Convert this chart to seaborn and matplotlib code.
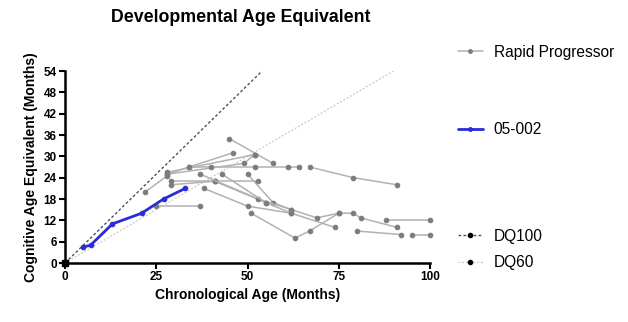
import matplotlib
matplotlib.use("Agg")
import matplotlib.pyplot as plt
import seaborn as sns
import pandas as pd
from matplotlib.lines import Line2D

# ---- data (months) ----
rapid_series = {
    "G1": ([45, 57], [35, 28]),
    "G2": ([28, 34, 46], [25, 27, 31]),
    "G3": ([28, 49, 52], [25, 28, 30.5]),
    "G3b": ([28, 52], [25.5, 30.5]),
    "G4": ([34, 40, 52, 61, 64], [27, 27, 27, 27, 27]),
    "G5": ([67, 79, 91], [27, 24, 22]),
    "G6": ([29, 41, 53], [23, 23, 23]),
    "G7": ([29, 41], [22, 23]),
    "G8": ([37, 53, 62], [25, 18, 15]),
    "G9": ([43, 55, 62, 74], [25, 17, 14, 10]),
    "G10": ([50, 57, 62, 69, 75, 79, 81, 91], [25, 17, 15, 12.7, 14, 14, 12.7, 10]),
    "G11": ([38, 50, 62], [21, 16, 14]),
    "G12": ([41, 55], [23, 17]),
    "G13": ([51, 63, 67, 75], [14, 7, 9, 14]),
    "G14": ([88, 100], [12, 12]),
    "G15": ([80, 92], [9, 8]),
    "G16": ([95, 100], [8, 8]),
    "G17": ([25, 37], [16, 16]),
    "G18": ([22, 28], [20, 24.5]),
}
subj_x = [5, 7, 13, 21, 27, 33]
subj_y = [4.5, 5, 11, 14, 18, 21]
dq100_x = [0, 54]
dq100_y = [0, 54]
dq60_x = [0, 90]
dq60_y = [0, 54]

x_ticks = [0, 25, 50, 75, 100]
y_ticks = [0, 6, 12, 18, 24, 30, 36, 42, 48, 54]

rows = []
for name, (xs, ys) in rapid_series.items():
    for xv, yv in zip(xs, ys):
        rows.append({"subject": name, "x": xv, "y": yv})
df_rapid = pd.DataFrame(rows)
df_subj = pd.DataFrame({"x": subj_x, "y": subj_y})
df_dq100 = pd.DataFrame({"x": dq100_x, "y": dq100_y})
df_dq60 = pd.DataFrame({"x": dq60_x, "y": dq60_y})

sns.set_theme(style="white")
plt.rcParams["font.family"] = ["Liberation Sans", "DejaVu Sans"]
plt.rcParams["text.color"] = "black"
plt.rcParams["axes.labelcolor"] = "black"
plt.rcParams["xtick.color"] = "black"
plt.rcParams["ytick.color"] = "black"

fig = plt.figure(figsize=(6.28, 3.22), dpi=100)
ax = fig.add_axes([65 / 628, 1 - 263 / 322, 365 / 628, (263 - 71) / 322])

gray_line = "#b2b2b2"
gray_mark = "#7c7c7c"
blue = "#2a2ad6"

# DQ lines
sns.lineplot(data=df_dq60, x="x", y="y", ax=ax, color="#c8c8c8", lw=0.9,
             linestyle=(0, (1.5, 1.5)), zorder=1)
sns.lineplot(data=df_dq100, x="x", y="y", ax=ax, color="#505050", lw=1.0,
             linestyle=(0, (2, 1.6)), zorder=1)

# Rapid progressors
sns.lineplot(data=df_rapid, x="x", y="y", units="subject", estimator=None,
             sort=False, ax=ax, color=gray_line, lw=1.1, marker="o",
             markersize=3.3, markerfacecolor=gray_mark, markeredgecolor=gray_mark,
             zorder=2, clip_on=False)

# Subject 05-002
sns.lineplot(data=df_subj, x="x", y="y", ax=ax, color=blue, lw=2.0,
             marker="o", markersize=3.3, markeredgecolor=blue, zorder=3)

ax.plot([0], [0], marker="s", color="black", markersize=4, clip_on=False, zorder=4)

ax.set_xlim(0, 100)
ax.set_ylim(0, 54)
ax.set_xticks(x_ticks)
ax.set_yticks(y_ticks)
ax.set_xticklabels([str(t) for t in x_ticks], fontweight="bold", fontsize=8.5)
ax.set_yticklabels([str(t) for t in y_ticks], fontweight="bold", fontsize=8.5)
for s in ["top", "right"]:
    ax.spines[s].set_visible(False)
for s in ["left", "bottom"]:
    ax.spines[s].set_color("black")
    ax.spines[s].set_linewidth(1.8)
ax.tick_params(axis="both", direction="out", length=4, width=1.5, color="black",
               pad=2, bottom=True, left=True)

ax.set_xlabel("Chronological Age (Months)", fontweight="bold", fontsize=10, labelpad=3)
ax.set_ylabel("Cognitive Age Equivalent (Months)", fontweight="bold", fontsize=10, labelpad=4)
fig.text(241 / 628, 1 - 18 / 322, "Developmental Age Equivalent", ha="center",
         va="center", fontweight="bold", fontsize=12.8)

handles = [
    (Line2D([], [], color=gray_line, lw=1.1, marker="o", markersize=2.5,
            markerfacecolor=gray_mark, markeredgecolor=gray_mark), "Rapid Progressor", 52),
    (Line2D([], [], color=blue, lw=2.0, marker="o", markersize=2.5), "05-002", 130),
    (Line2D([], [], color="#505050", lw=1.0, linestyle=(0, (2, 1.6)), marker="o",
            markersize=3, markerfacecolor="black", markeredgecolor="black"), "DQ100", 236),
    (Line2D([], [], color="#c8c8c8", lw=0.9, linestyle=(0, (1.5, 1.5)), marker="o",
            markersize=3, markerfacecolor="black", markeredgecolor="black"), "DQ60", 263),
]
for h, lab, ypx in handles:
    fig.legend(handles=[h], labels=[lab], loc="center left",
               bbox_to_anchor=(458 / 628, 1 - ypx / 322), frameon=False,
               handlelength=1.6, handletextpad=0.7, borderpad=0, borderaxespad=0,
               fontsize=11.2, numpoints=1)

fig.savefig("out.png", dpi=100)
